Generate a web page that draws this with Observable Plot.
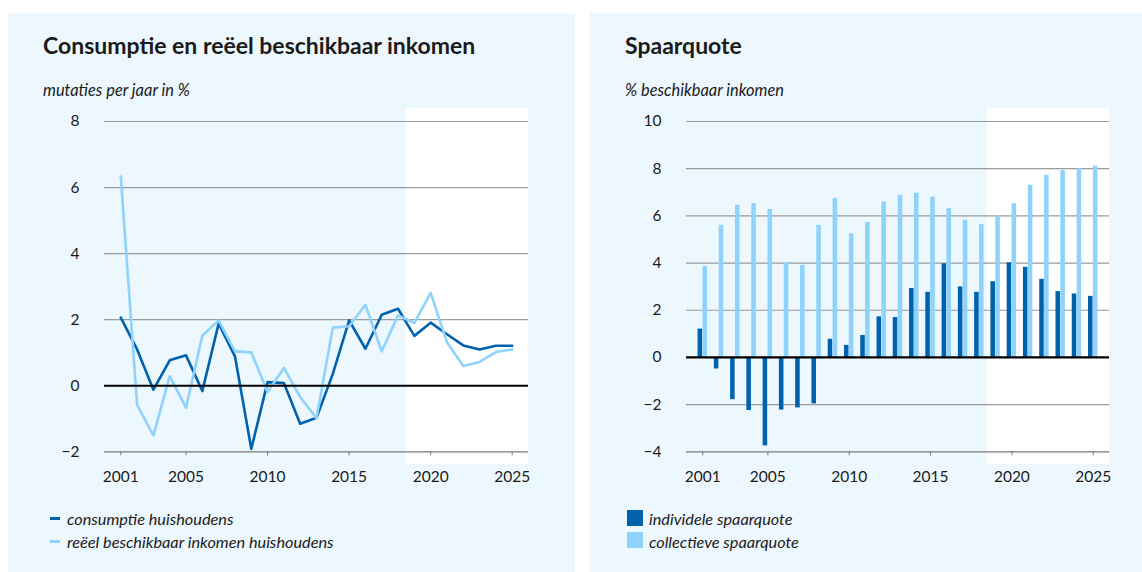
<!DOCTYPE html>
<html><head><meta charset="utf-8">
<script src="https://cdn.jsdelivr.net/npm/d3@7"></script>
<script src="https://cdn.jsdelivr.net/npm/@observablehq/plot@0.6"></script>
<style>
body{margin:0;width:1142px;height:572px;background:#fff;position:relative;overflow:hidden;font-family:Lato,sans-serif;color:#1b1b1b}
.panel{position:absolute;background:#edf7fe}
.title{position:absolute;font-weight:700;font-size:23px;line-height:23px;white-space:nowrap}
.sub{position:absolute;font-style:italic;font-size:16.4px;line-height:16px;white-space:nowrap}
.chart{position:absolute;top:100px}
.leg{position:absolute;font-style:italic;font-size:16.3px;line-height:16px;white-space:nowrap}
.sw{position:absolute}
</style></head><body>
<div class="panel" style="left:8px;top:13px;width:567px;height:560px"></div>
<div class="panel" style="left:590px;top:13px;width:552px;height:560px"></div>
<div class="title" style="left:43px;top:34px">Consumptie en reëel beschikbaar inkomen</div>
<div class="title" style="left:625px;top:34px">Spaarquote</div>
<div class="sub" style="left:43px;top:82px">mutaties per jaar in %</div>
<div class="sub" style="left:625px;top:82px">% beschikbaar inkomen</div>
<div id="c1" class="chart" style="left:8px"></div>
<div id="c2" class="chart" style="left:590px"></div>
<div class="sw" style="left:50px;top:517px;width:10px;height:3px;background:#0062ad"></div>
<div class="leg" style="left:67px;top:511px">consumptie huishoudens</div>
<div class="sw" style="left:50px;top:540px;width:10px;height:3px;background:#8fd3fd"></div>
<div class="leg" style="left:67px;top:534px">reëel beschikbaar inkomen huishoudens</div>
<div class="sw" style="left:627px;top:510px;width:16px;height:16px;background:#0062ad"></div>
<div class="leg" style="left:649px;top:511px">individele spaarquote</div>
<div class="sw" style="left:627px;top:532px;width:16px;height:16px;background:#8fd3fd"></div>
<div class="leg" style="left:649px;top:534px">collectieve spaarquote</div>
<script>
const years = [2001,2002,2003,2004,2005,2006,2007,2008,2009,2010,2011,2012,2013,2014,2015,2016,2017,2018,2019,2020,2021,2022,2023,2024,2025];
const consumptie = [2.06,1.1,-0.12,0.77,0.92,-0.16,1.88,0.89,-1.91,0.11,0.08,-1.15,-0.97,0.36,1.98,1.12,2.15,2.33,1.51,1.91,1.56,1.22,1.10,1.21,1.21];
const inkomen = [6.33,-0.58,-1.5,0.29,-0.67,1.52,1.98,1.04,1.01,-0.19,0.54,-0.34,-0.98,1.76,1.8,2.45,1.04,2.13,1.9,2.81,1.32,0.6,0.72,1.02,1.1];
const individueel = [1.2,-0.49,-1.79,-2.25,-3.75,-2.23,-2.14,-1.97,0.77,0.51,0.93,1.72,1.69,2.92,2.76,3.97,2.99,2.76,3.21,4.01,3.82,3.31,2.79,2.69,2.59];
const collectief = [3.85,5.6,6.45,6.52,6.27,4.01,3.9,5.6,6.73,5.24,5.72,6.59,6.87,6.96,6.79,6.32,5.82,5.63,6.01,6.52,7.3,7.72,7.92,8.0,8.11];
const xTicks = [2001,2005,2010,2015,2020,2025];
const yTicks1 = [-2,0,2,4,6,8];
const yTicks2 = [-4,-2,0,2,4,6,8,10];
const xDomain = [2000,2026];
const forecastStart = 2018.5;

const dark = "#0062ad", light = "#8fd3fd";
const fmt = d => d < 0 ? "\u2212" + Math.abs(d) : String(d);
const rows = years.map((y,i) => ({year:y, cons:consumptie[i], ink:inkomen[i], ind:individueel[i], col:collectief[i]}));

function base(yTicks, marks, w, mr) {
  const yMin = yTicks[0], yMax = yTicks[yTicks.length-1];
  return Plot.plot({
    width: w, height: 390, marginLeft: 96, marginRight: mr, marginTop: 21, marginBottom: 38.7,
    x: {domain: xDomain}, y: {domain: [yMin, yMax]},
    style: {background: "transparent", fontFamily: "Lato, sans-serif", fontSize: "15.5px", color: "#1b1b1b", overflow: "visible"},
    marks: [
      Plot.rect([{a: forecastStart, b: xDomain[1]}], {x1: "a", x2: "b", fill: "#fff", insetTop: -13.3, insetBottom: -12.7}),
      Plot.ruleY(yTicks.filter(t => t !== 0 && t !== yMin), {stroke: "#9a9a9a", strokeWidth: 1.2}),
      Plot.ruleY([yMin], {stroke: "#7a7a7a", strokeWidth: 1.2}),
      ...marks,
      Plot.ruleY([0], {stroke: "#000", strokeWidth: 2.2}),
      Plot.axisX(xTicks, {tickSize: 4, tickPadding: 15, tickFormat: d => String(d), stroke: "#7a7a7a", fontSize: 15.5, label: null}),
      Plot.axisY(yTicks, {tickSize: 0, tickPadding: 25, tickFormat: fmt, fontSize: 15.5, label: null})
    ]
  });
}

document.getElementById("c1").append(base(yTicks1, [
  Plot.line(rows, {x: "year", y: "cons", stroke: dark, strokeWidth: 2.6}),
  Plot.line(rows, {x: "year", y: "ink", stroke: light, strokeWidth: 2.6})
], 567, 47));

document.getElementById("c2").append(base(yTicks2, [
  Plot.rectY(rows, {x1: d => d.year - 0.29, x2: d => d.year - 0.01, y: "ind", fill: dark}),
  Plot.rectY(rows, {x1: d => d.year + 0.01, x2: d => d.year + 0.29, y: "col", fill: light})
], 552, 33));
</script>
</body></html>
